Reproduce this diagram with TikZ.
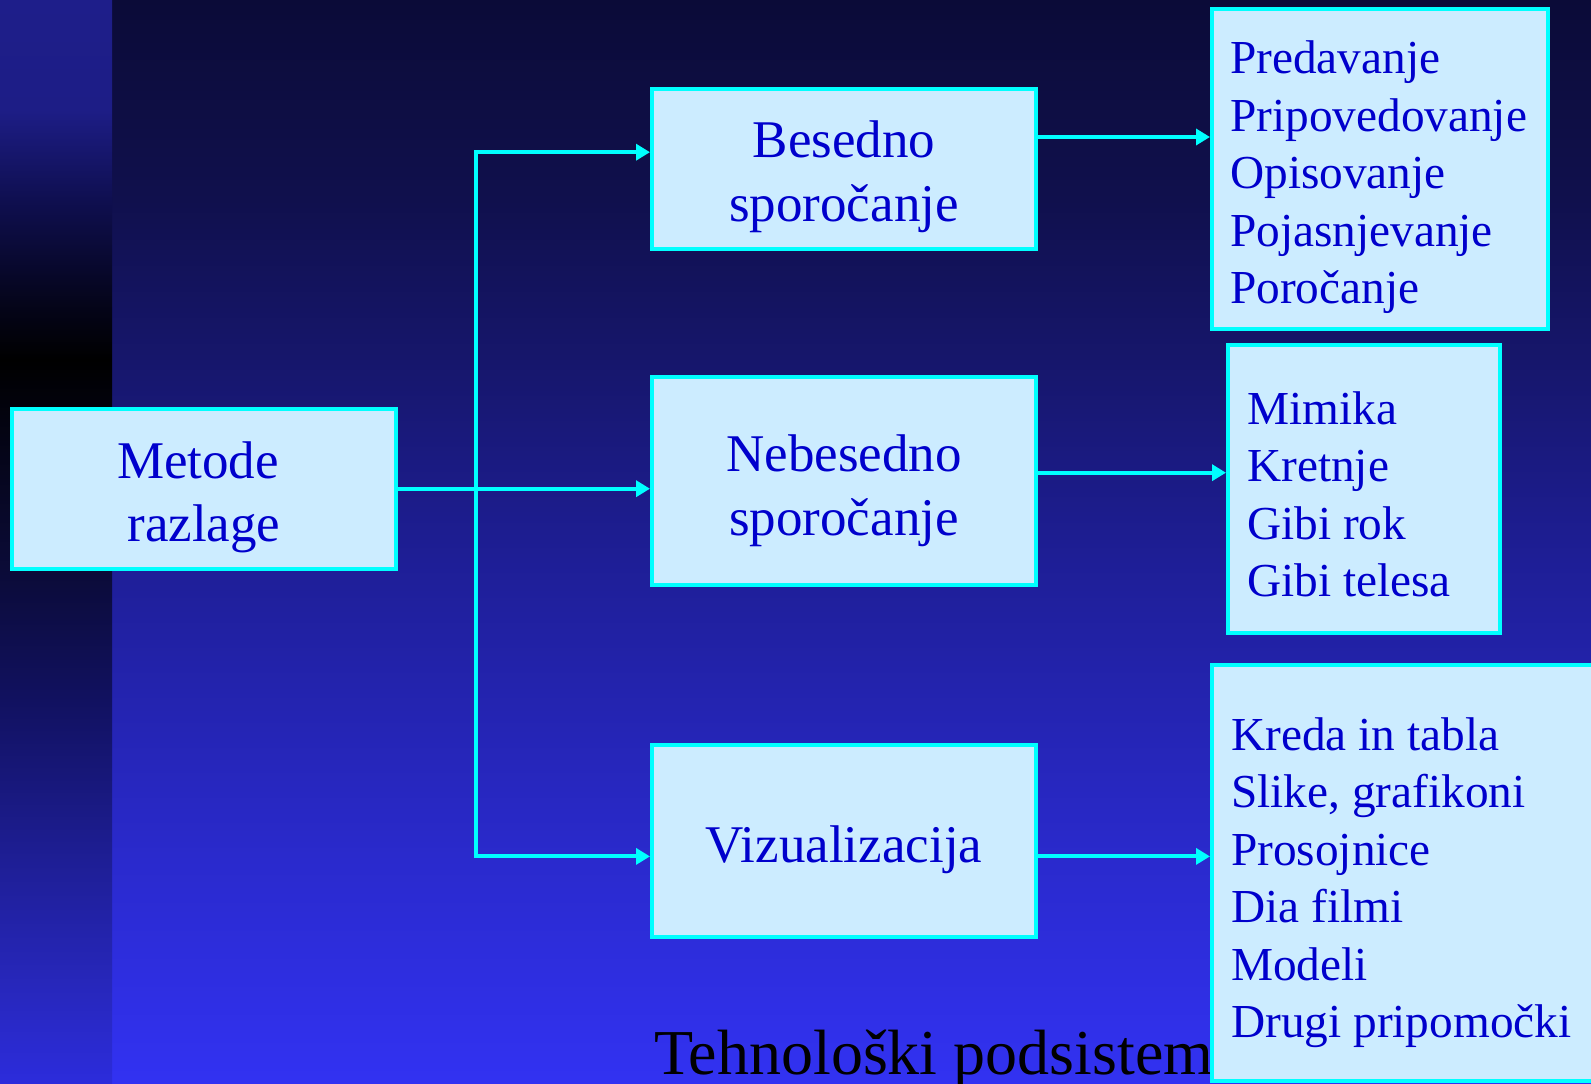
\documentclass[tikz,border=0pt]{standalone}
\usepackage{fontspec}
\setmainfont{Liberation Serif}
\usetikzlibrary{arrows.meta}
\definecolor{boxfill}{HTML}{CCECFF}
\definecolor{boxline}{HTML}{00FFFF}
\definecolor{txtblue}{HTML}{0000CC}
\definecolor{bgA}{HTML}{0B0B38}
\definecolor{bgB}{HTML}{10104D}
\definecolor{bgC}{HTML}{171770}
\definecolor{bgD}{HTML}{1E1E96}
\definecolor{bgE}{HTML}{2A2ACD}
\definecolor{bgF}{HTML}{3232F2}
\definecolor{stA}{HTML}{1E1E8A}
\definecolor{stB}{HTML}{1D1D86}
\definecolor{stC}{HTML}{0F0F50}
\definecolor{stD}{HTML}{05051C}
\definecolor{stE}{HTML}{000000}
\definecolor{stF}{HTML}{0B0B38}
\definecolor{stG}{HTML}{111160}
\definecolor{stH}{HTML}{1E1E95}
\definecolor{stI}{HTML}{2828C0}
\definecolor{stJ}{HTML}{2C2CDC}
\pgfdeclareverticalshading{bgshade}{100bp}{color(0bp)=(bgF); color(25bp)=(bgF); color(35.33bp)=(bgE); color(49.17bp)=(bgD); color(57.33bp)=(bgC); color(65.78bp)=(bgB); color(75bp)=(bgA); color(100bp)=(bgA)}
\pgfdeclareverticalshading{stripshade}{100bp}{color(0bp)=(stJ); color(25bp)=(stJ); color(28.88bp)=(stI); color(35.33bp)=(stH); color(42.71bp)=(stG); color(48.71bp)=(stF); color(58.4bp)=(stE); color(61.16bp)=(stD); color(65.78bp)=(stC); color(69.93bp)=(stB); color(75bp)=(stA); color(100bp)=(stA)}
\tikzset{
  box/.style={draw=boxline, fill=boxfill, line width=4pt, rectangle, inner sep=0pt},
  btxt/.style={text=txtblue, font=\fontsize{53}{63.5}\selectfont, align=center, inner sep=0pt},
  ltxt/.style={text=txtblue, font=\fontsize{47.3}{57.5}\selectfont, align=left, inner sep=0pt, anchor=north west},
  conn/.style={draw=boxline, line width=4pt},
  >={Triangle[length=14pt,width=16pt]}
}
\begin{document}
\begin{tikzpicture}[x=1pt,y=-1pt]
\useasboundingbox (0,0) rectangle (1591,1084);
\shade[shading=bgshade] (0,0) rectangle (1591,1084);
\shade[shading=stripshade] (0,0) rectangle (112,1084);
\node[anchor=base west, inner sep=0pt, font=\fontsize{64}{70}\selectfont, text=black] (ttl) at (654,1074) {Tehnološki podsistem};

\node[box, minimum width=384pt, minimum height=160pt] (met) at (204,488.7) {};
\node[btxt] (mett) at ([yshift=-8.5pt]met.center) {Metode\kern12pt\\razlage};
\node[box, minimum width=384pt, minimum height=160pt] (bes) at (844,168.7) {};
\node[btxt] (best) at ([yshift=-8pt]bes.center) {Besedno\\sporočanje};
\node[box, minimum width=384pt, minimum height=208pt] (neb) at (844,480.7) {};
\node[btxt] (nebt) at ([yshift=-10pt]neb.center) {Nebesedno\\sporočanje};
\node[box, minimum width=384pt, minimum height=192pt] (viz) at (844,840.7) {};
\node[btxt] (vizt) at ([yshift=-9.5pt]viz.center) {Vizualizacija};

\node[box, minimum width=336pt, minimum height=320pt] (pred) at (1380,168.7) {};
\node[ltxt] (predt) at (1230,40.6) {Predavanje\\Pripovedovanje\\Opisovanje\\Pojasnjevanje\\Poročanje};
\node[box, minimum width=272pt, minimum height=288pt] (mim) at (1364,488.7) {};
\node[ltxt] (mimt) at (1247,391) {Mimika\\Kretnje\\Gibi rok\\Gibi telesa};
\node[box, minimum width=396pt, minimum height=416pt] (kre) at (1410,872.7) {};
\node[ltxt] (kret) at (1231,717) {Kreda in tabla\\Slike, grafikoni\\Prosojnice\\Dia filmi\\Modeli\\Drugi pripomočki};

\coordinate (jt) at (476,152.2);
\coordinate (jb) at (476,856.4);
\draw[conn, ->] (met.east) -- (met.east -| neb.west);
\draw[conn, <->] (jt -| bes.west) -- (jt) -- (jb) -- (jb -| viz.west);
\draw[conn, ->] ([yshift=31.7pt]bes.east) coordinate (s1) -- (s1 -| pred.west);
\draw[conn, ->] ([yshift=8pt]neb.east) coordinate (s2) -- (s2 -| mim.west);
\draw[conn, ->] ([yshift=-15.7pt]viz.east) coordinate (s3) -- (s3 -| kre.west);
\end{tikzpicture}
\end{document}
